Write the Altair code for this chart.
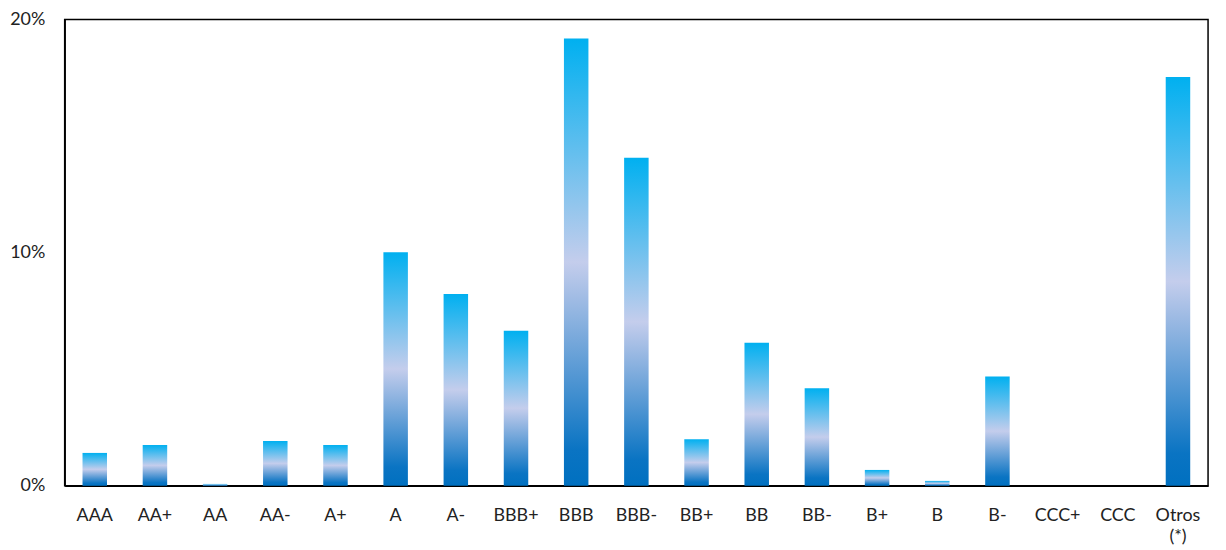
import altair as alt
import pandas as pd

categories = ["AAA", "AA+", "AA", "AA-", "A+", "A", "A-", "BBB+", "BBB", "BBB-",
              "BB+", "BB", "BB-", "B+", "B", "B-", "CCC+", "CCC", "Otros (*)"]
values = [1.41, 1.75, 0.08, 1.92, 1.75, 10.02, 8.23, 6.65, 19.19, 14.07,
          2.0, 6.14, 4.18, 0.68, 0.21, 4.69, 0.0, 0.0, 17.53]

df = pd.DataFrame({"cat": categories, "val": [v / 100 for v in values]})

grad = alt.Gradient(
    gradient="linear",
    stops=[
        alt.GradientStop(color="#0070C0", offset=0),
        alt.GradientStop(color="#0A74C3", offset=0.08),
        alt.GradientStop(color="#C4CDEC", offset=0.5),
        alt.GradientStop(color="#00B0F0", offset=1),
    ],
    x1=0, x2=0, y1=1, y2=0,
)

chart = (
    alt.Chart(df)
    .mark_bar(color=grad)
    .encode(
        x=alt.X(
            "cat:N",
            sort=categories,
            title=None,
            scale=alt.Scale(paddingInner=0.593, paddingOuter=0.2965),
            axis=alt.Axis(
                labelAngle=0,
                ticks=False,
                labelPadding=21,
                labelFont="Lato",
                labelFontSize=18,
                labelColor="#222222",
                labelExpr="datum.value == 'Otros (*)' ? ['Otros', '(*)'] : datum.label",
                domainColor="#000000",
                domainWidth=1.5,
                labelLineHeight=21,
            ),
        ),
        y=alt.Y(
            "val:Q",
            title=None,
            scale=alt.Scale(domain=[0, 0.2], nice=False),
            axis=alt.Axis(
                values=[0, 0.1, 0.2],
                format=".0%",
                grid=False,
                ticks=False,
                labelPadding=20,
                labelFont="Lato",
                labelFontSize=18,
                labelColor="#222222",
                domainColor="#000000",
                domainWidth=1.5,
            ),
        ),
    )
    .properties(
        width=1150,
        height=469,
        autosize=alt.AutoSizeParams(type="none"),
        padding={"left": 57, "top": 10, "right": 10, "bottom": 62},
    )
    .configure_view(stroke="#000000", strokeWidth=1.5)
)

chart.save("out.html", embed_options={"renderer": "svg", "actions": False})
